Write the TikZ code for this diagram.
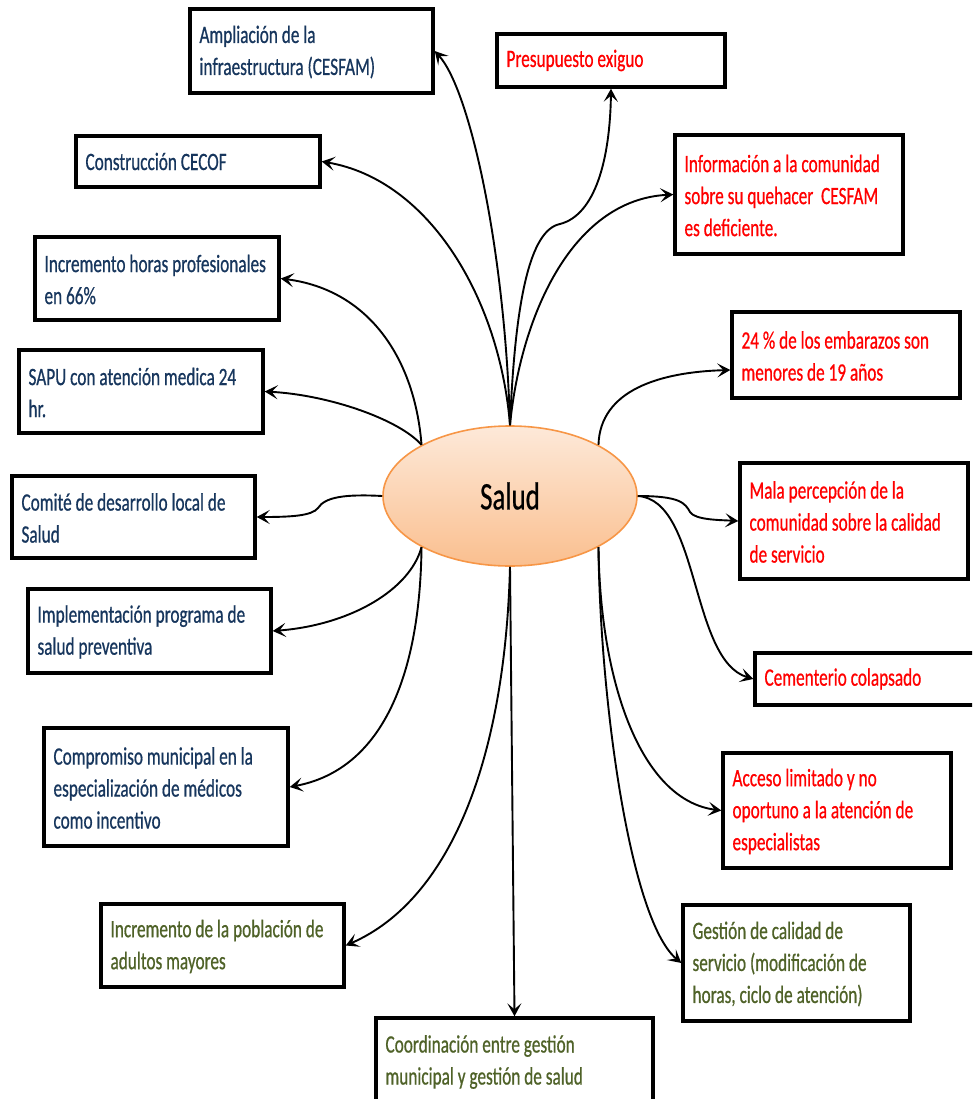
\documentclass[tikz,border=0pt]{standalone}
\usepackage{fontspec}
\setmainfont{Carlito}[FakeStretch=0.69,FakeBold=0.6]
\usetikzlibrary{shapes.geometric,arrows.meta,fit}
\definecolor{txtnavy}{RGB}{23,54,93}
\definecolor{txtgreen}{RGB}{79,98,40}
\definecolor{txtred}{RGB}{255,0,0}
\definecolor{ellborder}{RGB}{247,150,70}
\definecolor{elltop}{RGB}{253,233,217}
\definecolor{ellbot}{RGB}{250,191,143}
\begin{document}
\begin{tikzpicture}[x=1pt,y=-1pt,
  box/.style={draw=black, line width=3.4pt, inner sep=0pt, fill=white},
  txt/.style={anchor=west, align=left, inner sep=0pt, font=\fontsize{25}{32}\selectfont},
  navytxt/.style={txt, text=txtnavy},
  greentxt/.style={txt, text=txtgreen},
  redtxt/.style={txt, text=txtred},
  conn/.style={line width=1.9pt, -{Stealth[length=13pt,width=14pt,inset=6pt]}},
  hub/.style={ellipse, draw=ellborder, line width=1.6pt, top color=elltop, bottom color=ellbot,
    minimum width=254pt, minimum height=140pt, inner sep=0pt, font=\fontsize{39}{40}\selectfont}
]
\clip (0,0) rectangle (972,1099);
\fill[white] (0,0) rectangle (972,1099);

% left column boxes
\node[box, fit={(190,9)(433,93)}] (b1) {};
\node[navytxt] (t1) at ([xshift=11pt,yshift=-1pt]b1.west) {Ampliación de la\\infraestructura (CESFAM)};
\node[box, fit={(76,136)(320,187)}] (b2) {};
\node[navytxt] (t2) at ([xshift=11pt]b2.west) {Construcción CECOF};
\node[box, fit={(35,237)(279,320)}] (b3) {};
\node[navytxt] (t3) at ([xshift=11pt,yshift=-1pt]b3.west) {Incremento horas profesionales\\en 66\%};
\node[box, fit={(19,350)(263,433)}] (b4) {};
\node[navytxt] (t4) at ([xshift=11pt,yshift=-1pt]b4.west) {SAPU con atención medica 24\\hr.};
\node[box, fit={(12,476)(255,558)}] (b5) {};
\node[navytxt] (t5) at ([xshift=11pt,yshift=-1pt]b5.west) {Comité de desarrollo local de\\Salud};
\node[box, fit={(28,589)(271,673)}] (b6) {};
\node[navytxt] (t6) at ([xshift=11pt,yshift=-1pt]b6.west) {Implementación programa de\\salud preventiva};
\node[box, fit={(44,728)(288,846)}] (b7) {};
\node[navytxt] (t7) at ([xshift=11pt,yshift=-1pt]b7.west) {Compromiso municipal en la\\especialización de médicos\\como incentivo};
\node[box, fit={(101,904)(344,987)}] (b8) {};
\node[greentxt] (t8) at ([xshift=11pt,yshift=-1pt]b8.west) {Incremento de la población de\\adultos mayores};
\node[box, fit={(376,1018)(653,1106)}] (b9) {};
\node[greentxt] (t9) at ([xshift=11pt]b9.west) {Coordinación entre gestión\\municipal y gestión de salud};

% right column boxes
\node[box, fit={(497,34)(725,87)}] (b10) {};
\node[redtxt] (t10) at ([xshift=11pt]b10.west) {Presupuesto exiguo};
\node[box, fit={(675,135)(903,254)}] (b11) {};
\node[redtxt] (t11) at ([xshift=11pt,yshift=-1pt]b11.west) {Información a la comunidad\\sobre su quehacer\ \ CESFAM\\es deficiente.};
\node[box, fit={(732,312)(960,398)}] (b12) {};
\node[redtxt] (t12) at ([xshift=11pt,yshift=-1pt]b12.west) {24 \% de los embarazos son\\menores de 19 años};
\node[box, fit={(740,463)(968,579)}] (b13) {};
\node[redtxt] (t13) at ([xshift=11pt,yshift=-1pt]b13.west) {Mala percepción de la\\comunidad sobre la calidad\\de servicio};
\node[box, fit={(755,653)(995,705)}] (b14) {};
\node[redtxt] (t14) at ([xshift=11pt]b14.west) {Cementerio colapsado};
\node[box, fit={(723,753)(951,868)}] (b15) {};
\node[redtxt] (t15) at ([xshift=11pt,yshift=-1pt]b15.west) {Acceso limitado y no\\oportuno a la atención de\\especialistas};
\node[box, fit={(683,905)(910,1021)}] (b16) {};
\node[greentxt] (t16) at ([xshift=11pt,yshift=-1pt]b16.west) {Gestión de calidad de\\servicio (modificación de\\horas, ciclo de atención)};

% hub
\node[hub] (e) at (510,496) {Salud};

% connectors
\draw[conn] (e.north) .. controls (505,250) and (470,90) .. (b1.east);
\draw[conn] (e.north) .. controls (500,300) and (430,180) .. (b2.east);
\draw[conn] (e.north) .. controls (515,300) and (530,230) .. (560,224) .. controls (595,215) and (610,160) .. (b10.south);
\draw[conn] (e.north) .. controls (520,320) and (570,200) .. (b11.west);
\draw[conn] (e.150) .. controls (415,360) and (370,290) .. (b3.east);
\draw[conn] (e.150) .. controls (400,420) and (330,395) .. (b4.east);
\draw[conn] (e.west) .. controls (345,494) and (325,497) .. (318,508) .. controls (312,516) and (290,517) .. (b5.east);
\draw[conn] (e.210) .. controls (410,590) and (350,625) .. (b6.east);
\draw[conn] (e.210) .. controls (420,680) and (380,770) .. (b7.east);
\draw[conn] (e.south) .. controls (505,760) and (450,900) .. (b8.east);
\draw[conn] (e.south) -- (b9.north);
\draw[conn] (e.330) .. controls (600,700) and (630,920) .. (b16.west);
\draw[conn] (e.330) .. controls (600,680) and (640,800) .. (b15.west);
\draw[conn] (e.30) .. controls (600,390) and (660,372) .. ([yshift=-15pt]b12.west);
\draw[conn] (e.east) .. controls (680,496) and (685,503) .. (690,512) .. controls (695,520) and (720,520) .. (b13.west);
\draw[conn] (e.east) .. controls (700,500) and (690,660) .. (b14.west);
\end{tikzpicture}
\end{document}
